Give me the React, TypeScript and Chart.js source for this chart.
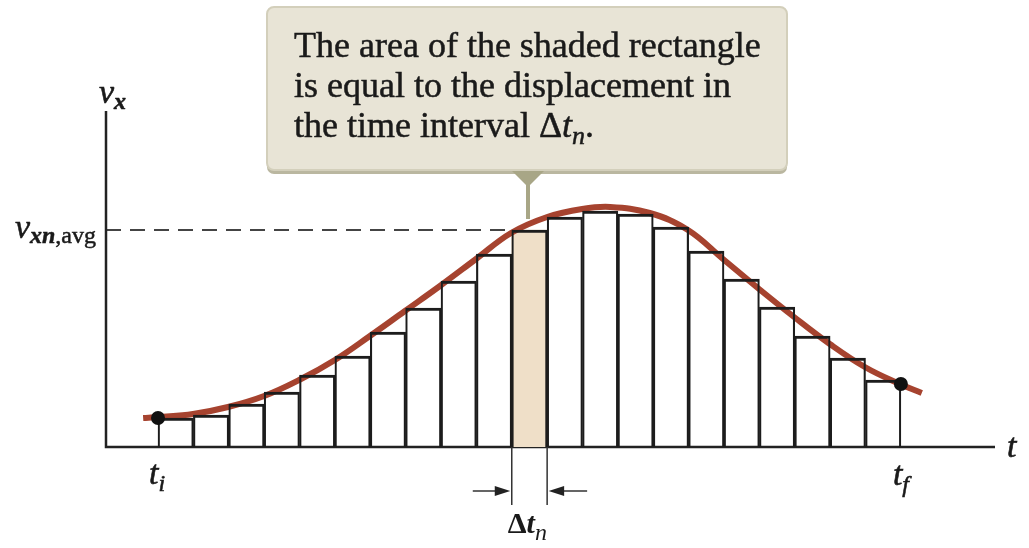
import React, { useEffect, useRef } from "react";
import { Chart, registerables } from "chart.js";

Chart.register(...registerables);

// ---- data ----
const binStarts = [0, 1, 2, 3, 4, 5, 6, 7, 8, 9, 10, 11, 12, 13, 14, 15, 16, 17, 18, 19, 20];
const binValues = [2.9, 3.2, 4.3, 5.5, 7.2, 9.1, 11.5, 13.9, 16.6, 19.3, 21.7, 23.0, 23.6, 23.3, 22.0, 19.6, 16.8, 14.0, 11.1, 8.9, 6.7];
const shadedBin = 10;
const curveTimes = [-0.42, 0, 0.99, 1.98, 3.0, 3.99, 5.0, 5.99, 6.98, 7.97, 8.99, 9.98, 11.0, 11.99, 12.78, 13.9, 14.98, 15.97, 16.99, 17.98, 18.99, 19.98, 20.97, 21.59];
const curveValues = [2.9, 3.0, 3.3, 4.0, 5.1, 6.7, 8.7, 11.1, 13.6, 16.1, 18.8, 21.4, 23.0, 23.8, 24.0, 23.4, 21.7, 18.8, 15.8, 13.0, 10.3, 8.0, 6.3, 5.4];
const endpointTimes = [0, 21];
const endpointValues = [2.9, 6.3];
const timeMin = -1.47;
const timeMax = 23.66;
const velocityMax = 33.6;
const calloutLines = ["The area of the shaded rectangle", "is equal to the displacement in", "the time interval "];

const SERIF = '"Liberation Serif", "DejaVu Serif", serif';
const INK = "#1a1a1a";

type Part = { text: string; font: string; dy?: number };

function drawParts(ctx: CanvasRenderingContext2D, x: number, y: number, parts: Part[], align: "left" | "right" = "left", weightStroke = 0) {
  let total = 0;
  for (const p of parts) {
    ctx.font = p.font;
    total += ctx.measureText(p.text).width;
  }
  let cx = align === "right" ? x - total : x;
  for (const p of parts) {
    ctx.font = p.font;
    ctx.fillText(p.text, cx, y + (p.dy || 0));
    if (weightStroke > 0) {
      ctx.lineWidth = weightStroke;
      ctx.strokeStyle = ctx.fillStyle as string;
      ctx.strokeText(p.text, cx, y + (p.dy || 0));
    }
    cx += ctx.measureText(p.text).width;
  }
}

function yAvgOf(ys: any) {
  return ys.getPixelForValue(binValues[shadedBin]);
}

const decorations = {
  id: "decorations",
  beforeDatasetsDraw(chart: any) {
    const { ctx, chartArea, scales } = chart;
    const xs = scales.x;
    const ys = scales.y;
    ctx.save();
    // dashed average line
    ctx.strokeStyle = "#444";
    ctx.lineWidth = 2;
    ctx.setLineDash([15, 9]);
    const yAvg = yAvgOf(ys);
    ctx.beginPath();
    ctx.moveTo(chartArea.left, yAvg);
    ctx.lineTo(xs.getPixelForValue(binStarts[shadedBin]), yAvg);
    ctx.stroke();
    ctx.setLineDash([]);
    // axes
    ctx.strokeStyle = "#222";
    ctx.lineWidth = 2.5;
    ctx.beginPath();
    ctx.moveTo(chartArea.left, chartArea.top);
    ctx.lineTo(chartArea.left, chartArea.bottom);
    ctx.lineTo(chartArea.right, chartArea.bottom);
    ctx.stroke();
    ctx.restore();
  },
  afterDatasetsDraw(chart: any) {
    const { ctx, chartArea, scales } = chart;
    const xs = scales.x;
    const ys = scales.y;
    ctx.save();
    ctx.fillStyle = INK;
    ctx.textBaseline = "alphabetic";

    // delta t annotation
    const x0 = xs.getPixelForValue(binStarts[shadedBin]);
    const x1 = xs.getPixelForValue(binStarts[shadedBin] + 1);
    const yb = chartArea.bottom;
    ctx.strokeStyle = "#333";
    ctx.lineWidth = 1.5;
    ctx.beginPath();
    ctx.moveTo(x0, yb);
    ctx.lineTo(x0, yb + 58);
    ctx.moveTo(x1, yb);
    ctx.lineTo(x1, yb + 58);
    const ay = yb + 44;
    ctx.moveTo(x0 - 39, ay);
    ctx.lineTo(x0 - 10, ay);
    ctx.moveTo(x1 + 40, ay);
    ctx.lineTo(x1 + 10, ay);
    ctx.stroke();
    ctx.fillStyle = "#222";
    ctx.beginPath();
    ctx.moveTo(x0 - 1.5, ay);
    ctx.lineTo(x0 - 17, ay - 5);
    ctx.lineTo(x0 - 17, ay + 5);
    ctx.closePath();
    ctx.moveTo(x1 + 1.5, ay);
    ctx.lineTo(x1 + 17, ay - 5);
    ctx.lineTo(x1 + 17, ay + 5);
    ctx.closePath();
    ctx.fill();

    ctx.fillStyle = INK;
    drawParts(ctx, x0 - 4, yb + 86, [
      { text: "Δ", font: `bold 30px ${SERIF}` },
      { text: "t", font: `italic bold 30px ${SERIF}` },
      { text: "n", font: `italic 24px ${SERIF}`, dy: 7 },
    ]);

    // axis labels
    drawParts(ctx, chartArea.left - 7, chartArea.top - 8, [
      { text: "v", font: `italic 34px ${SERIF}` },
      { text: "x", font: `italic bold 24px ${SERIF}`, dy: 6 },
    ], "left", 0.6);
    drawParts(ctx, chartArea.left - 10, yAvgOf(ys) + 8, [
      { text: "v", font: `italic 34px ${SERIF}` },
      { text: "xn", font: `italic bold 24px ${SERIF}`, dy: 5 },
      { text: ",avg", font: `24px ${SERIF}`, dy: 5 },
    ], "right", 0.5);
    drawParts(ctx, chartArea.right + 12, chartArea.bottom + 10, [
      { text: "t", font: `italic 34px ${SERIF}` },
    ], "left", 0.6);
    const xi = xs.getPixelForValue(endpointTimes[0]);
    drawParts(ctx, xi - 9, chartArea.bottom + 37, [
      { text: "t", font: `italic 34px ${SERIF}` },
      { text: "i", font: `italic 24px ${SERIF}`, dy: 7 },
    ], "left", 0.6);
    const xf = xs.getPixelForValue(endpointTimes[1]);
    drawParts(ctx, xf - 8, chartArea.bottom + 38, [
      { text: "t", font: `italic 34px ${SERIF}` },
      { text: "f", font: `italic 24px ${SERIF}`, dy: 7 },
    ], "left", 0.6);

    // callout
    const bx = 267, by = 7, bw = 520, bh = 165;
    ctx.fillStyle = "#bab7a0";
    ctx.beginPath();
    ctx.roundRect(bx, by + 2, bw, bh, 7);
    ctx.fill();
    ctx.fillStyle = "#e8e4d6";
    ctx.strokeStyle = "#d3cfbb";
    ctx.lineWidth = 2;
    ctx.beginPath();
    ctx.roundRect(bx, by, bw, bh - 2, 7);
    ctx.fill();
    ctx.stroke();
    ctx.fillStyle = "#a8a686";
    ctx.beginPath();
    ctx.moveTo(512, by + bh - 1);
    ctx.lineTo(544, by + bh - 1);
    ctx.lineTo(528, by + bh + 15);
    ctx.closePath();
    ctx.fill();
    ctx.fillRect(526, by + bh + 5, 4, 42);

    ctx.fillStyle = INK;
    const f = `36px ${SERIF}`;
    drawParts(ctx, 294, 57, [{ text: calloutLines[0], font: f }], "left", 0.5);
    drawParts(ctx, 294, 97, [{ text: calloutLines[1], font: f }], "left", 0.5);
    drawParts(ctx, 294, 137, [
      { text: calloutLines[2], font: f },
      { text: "Δ", font: f },
      { text: "t", font: `italic 36px ${SERIF}` },
      { text: "n", font: `italic 26px ${SERIF}`, dy: 7 },
      { text: ".", font: f },
    ], "left", 0.5);
    ctx.restore();
  },
};

export default function App() {
  const ref = useRef<HTMLCanvasElement | null>(null);
  useEffect(() => {
    if (!ref.current) return;
    const bars = binStarts.map((s, i) => ({ x: s + 0.5, y: binValues[i] }));
    const curve = curveTimes.map((t, i) => ({ x: t, y: curveValues[i] }));
    const dots = endpointTimes.map((t, i) => ({ x: t, y: endpointValues[i] }));
    const chart = new Chart(ref.current, {
      type: "bar",
      data: {
        datasets: [
          {
            type: "bar",
            data: bars,
            backgroundColor: (c: any) => (c.dataIndex === shadedBin ? "#efdfc8" : "rgba(255,255,255,0)"),
            borderWidth: 0,
            barPercentage: 1,
            categoryPercentage: 1,
            grouped: false,
            order: 4,
          } as any,
          {
            type: "line",
            data: curve,
            borderColor: "#a6432f",
            borderWidth: 6,
            pointRadius: 0,
            tension: 0.4,
            fill: false,
            order: 3,
          } as any,
          {
            type: "bar",
            data: bars,
            backgroundColor: "rgba(255,255,255,0)",
            borderColor: "#1c1c1c",
            borderWidth: { top: 2.5, left: 1.5, right: 1.5, bottom: 0 },
            borderSkipped: "bottom",
            barPercentage: 1,
            categoryPercentage: 1,
            grouped: false,
            order: 2,
          } as any,
          {
            type: "scatter",
            data: dots,
            pointRadius: 7,
            pointBackgroundColor: "#111",
            pointBorderWidth: 0,
            showLine: false,
            order: 1,
          } as any,
        ],
      },
      options: {
        responsive: false,
        animation: false,
        devicePixelRatio: 1,
        layout: { padding: { left: 106, right: 34, top: 111, bottom: 101 } },
        plugins: { legend: { display: false }, tooltip: { enabled: false } },
        scales: {
          x: { type: "linear", min: timeMin, max: timeMax, offset: false, display: false },
          y: { type: "linear", min: 0, max: velocityMax, display: false },
        },
      } as any,
      plugins: [decorations],
    });
    return () => chart.destroy();
  }, []);
  return (
    <div style={{ position: "absolute", left: 0, top: 0, width: 1029, height: 548, background: "#fff" }}>
      <canvas ref={ref} width={1029} height={548} style={{ width: 1029, height: 548 }} />
    </div>
  );
}
